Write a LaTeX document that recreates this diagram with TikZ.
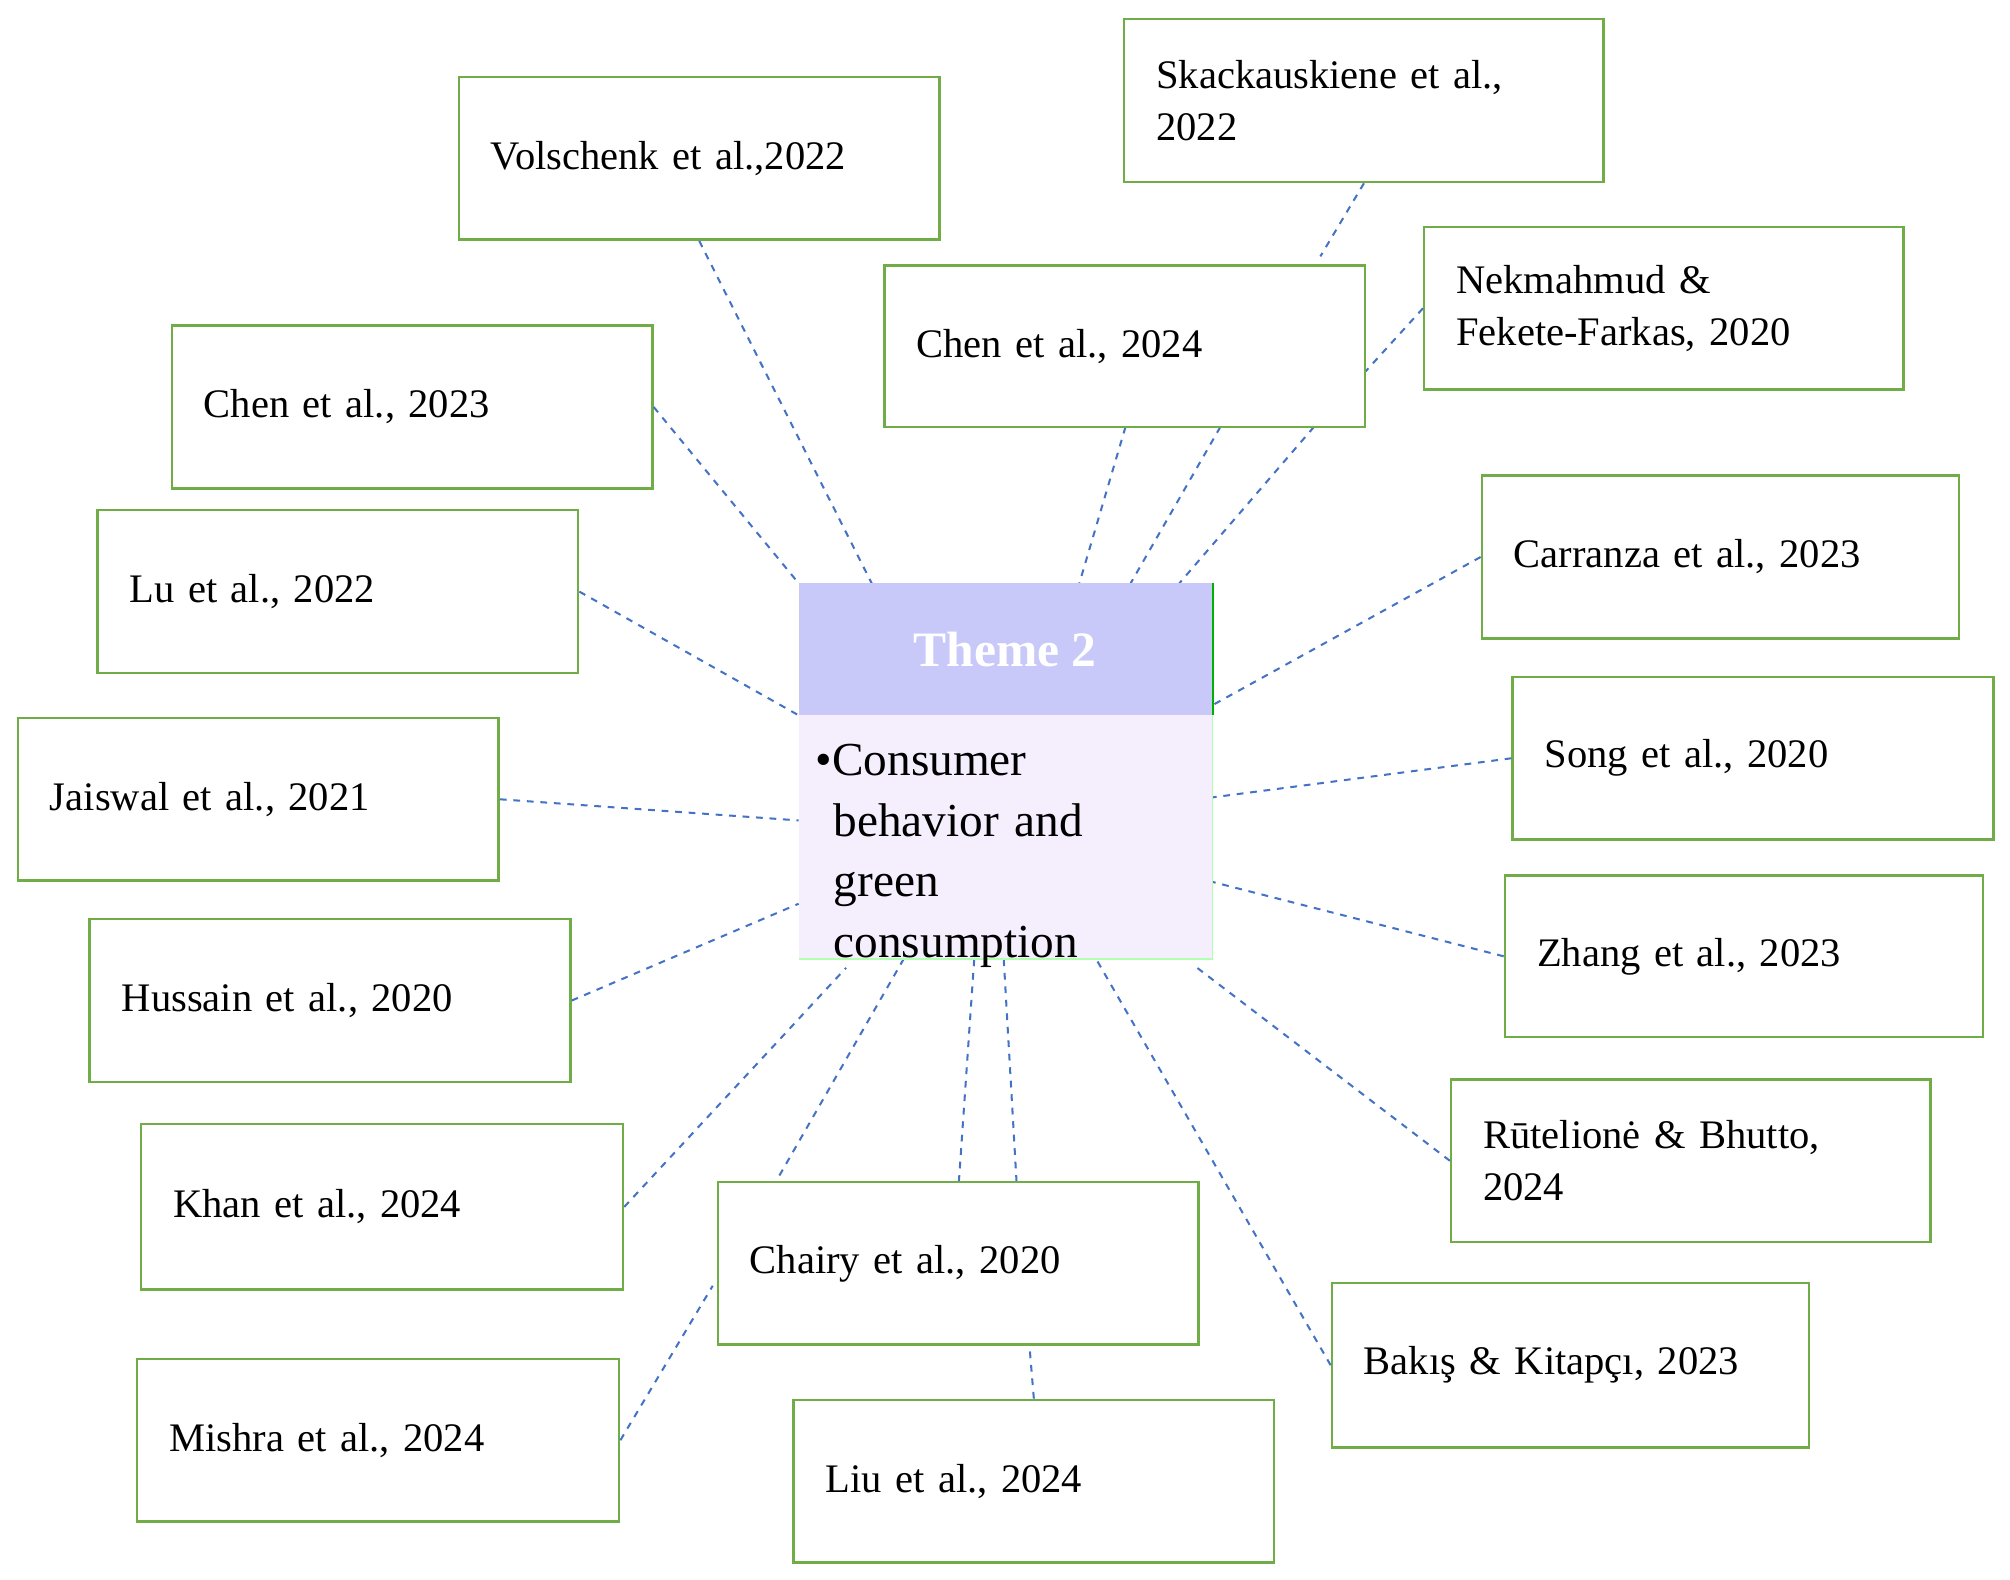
\documentclass[tikz,border=0pt]{standalone}
\usepackage{fontspec}
\setmainfont{Liberation Serif}
\definecolor{gbox}{HTML}{70AD47}
\definecolor{dblue}{HTML}{4472C4}
\definecolor{hdr}{HTML}{C9C9F9}
\definecolor{bdy}{HTML}{F5EFFD}
\newcommand{\bx}[6]{\node[box,minimum width={(#4-#2)*0.02cm},minimum height={(#5-#3)*0.02cm},text width={(#4-#2-50)*0.02cm}] (#1) at ({(#2+#4)/2},{(#3+#5)/2}) {#6};}
\begin{document}
\begin{tikzpicture}[x=0.02cm,y=-0.02cm,
 box/.style={draw=gbox,line width=1.1pt,fill=white,align=left,inner xsep=0.5cm,font=\fontsize{18}{23}\selectfont},
 con/.style={draw=dblue,dashed,line width=0.9pt}]
\useasboundingbox (0,0) rectangle (1568,1232);
\coordinate (c1) at (680,455); \coordinate (c2) at (623,455); \coordinate (c3) at (623,558);
\coordinate (c4) at (946,550); \coordinate (c5) at (623,640); \coordinate (c6) at (946,622);
\coordinate (c7) at (623,705); \coordinate (c8) at (946,688); \coordinate (c9) at (660,755);
\coordinate (c10) at (930,752); \coordinate (c11) at (705,748); \coordinate (c12) at (760,748);
\coordinate (c13) at (783,748); \coordinate (c14) at (855,748); \coordinate (c15) at (842,455);
\coordinate (c16) at (882,455); \coordinate (c17) at (920,455);
\bx{vol}{358}{60}{733}{187}{Volschenk et al.,2022}
\bx{ska}{877}{15}{1251}{142}{Skackauskiene et al.,\\2022}
\bx{nek}{1111}{177}{1485}{304}{Nekmahmud \&\\Fekete-Farkas, 2020}
\bx{ch23}{134}{254}{509}{381}{Chen et al., 2023}
\bx{lu}{76}{398}{451}{525}{Lu et al., 2022}
\bx{car}{1156}{371}{1528}{498}{Carranza et al., 2023}
\bx{jai}{14}{560}{389}{687}{Jaiswal et al., 2021}
\bx{son}{1180}{528}{1555}{655}{Song et al., 2020}
\bx{hus}{70}{717}{445}{844}{Hussain et al., 2020}
\bx{zha}{1174}{683}{1547}{809}{Zhang et al., 2023}
\bx{kha}{110}{877}{486}{1006}{Khan et al., 2024}
\bx{rut}{1132}{842}{1506}{969}{Rūtelionė \& Bhutto,\\2024}
\bx{bak}{1039}{1001}{1411}{1129}{Bakış \& Kitapçı, 2023}
\bx{mis}{107}{1060}{483}{1187}{Mishra et al., 2024}
\bx{liu}{619}{1092}{994}{1219}{Liu et al., 2024}
\path[con] (vol.south) -- (c1);
\path[con] (ska.south) -- (1030,200);
\path[con] (nek.west) -- (1065,290);
\path[con] (ch23.east) -- (c2);
\path[con] (lu.east) -- (c3);
\path[con] (car.west) -- (c4);
\path[con] (jai.east) -- (c5);
\path[con] (son.west) -- (c6);
\path[con] (hus.east) -- (c7);
\path[con] (zha.west) -- (c8);
\path[con] (kha.east) -- (c9);
\path[con] (rut.west) -- (c10);
\path[con] (bak.west) -- (c14);
\path[con] (mis.east) -- (556,1003);
\path[con] (liu.north) -- (803,1049);
\path[con] (878,333) -- (c15);
\path[con] (952,333) -- (c16);
\path[con] (1025,333) -- (c17);
\path[con] (608,917) -- (c11);
\path[con] (748,922) -- (c12);
\path[con] (793,922) -- (c13);
\bx{ch24}{690}{207}{1065}{333}{Chen et al., 2024}
\bx{cha}{560}{922}{935}{1049}{Chairy et al., 2020}
\fill[bdy] (623,558) rectangle (946,748);
\draw[green!30!white,line width=0.6pt] (623,748) -- (946,748) -- (946,558);
\fill[hdr] (623,455) rectangle (946,558);
\draw[green!70!black,line width=0.8pt] (946,455) -- (946,558);
\node[text=white,font=\fontsize{22}{26}\selectfont\bfseries] (th) at (784,507) {Theme 2};
\node[anchor=north west,align=left,text width=6.2cm,font=\fontsize{21}{27}\selectfont,inner sep=0pt] (bd) at (636,580) {•Consumer\\\hspace*{0.28cm}behavior and\\\hspace*{0.28cm}green\\\hspace*{0.28cm}consumption};
\end{tikzpicture}
\end{document}
